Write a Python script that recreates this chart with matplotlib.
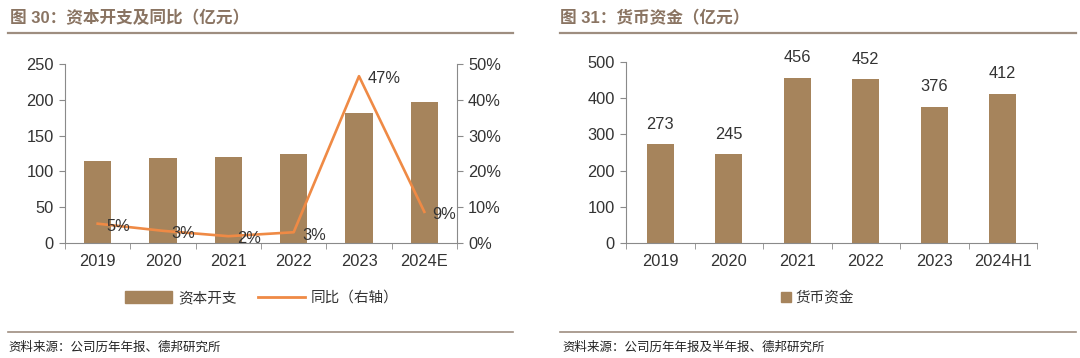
import matplotlib.pyplot as plt
import matplotlib.lines as mlines
import matplotlib.patches as mpatches
import numpy as np

plt.rcParams['font.family'] = ['Liberation Sans', 'Noto Sans CJK SC', 'DejaVu Sans']

# data
capex_years = ['2019', '2020', '2021', '2022', '2023', '2024E']
capex = [114.8, 118.5, 119.9, 124.0, 181.0, 197.5]
capex_yoy = [5.4, 3.4, 1.9, 3.0, 46.6, 8.7]   # %
capex_yoy_labels = ['5%', '3%', '2%', '3%', '47%', '9%']

cash_years = ['2019', '2020', '2021', '2022', '2023', '2024H1']
cash = [273, 245, 456, 452, 376, 412]

bar_color = '#A6845C'
line_color = '#EF8A45'
title_color = '#8A7462'
rule_color = '#9E8E80'
spine_color = '#8A8A8A'
text_color = '#333333'
fs = 11.8

fig = plt.figure(figsize=(10.8, 3.58), dpi=100)


def style_axis(ax, n):
    ax.set_xlim(-0.5, n - 0.5)
    ax.set_xticks(np.arange(n))
    ax.set_xticks(np.arange(n + 1) - 0.5, minor=True)
    ax.tick_params(axis='x', which='major', length=0, pad=8, labelsize=fs, labelcolor=text_color)
    ax.tick_params(axis='x', which='minor', length=4, direction='out', color=spine_color)
    ax.tick_params(axis='y', length=4, direction='out', color=spine_color, labelsize=fs,
                   labelcolor=text_color, pad=4)
    ax.spines['top'].set_visible(False)
    ax.spines['right'].set_visible(False)
    ax.spines['left'].set_color(spine_color)
    ax.spines['bottom'].set_color(spine_color)


# left chart: capex + yoy
ax1 = fig.add_axes([65 / 1080, 1 - 243 / 358, (457 - 65) / 1080, (243 - 64) / 358])
x1 = np.arange(len(capex_years))
ax1.bar(x1, capex, width=0.42, color=bar_color, zorder=2)
style_axis(ax1, len(capex_years))
ax1.set_xticklabels(capex_years)
ax1.set_ylim(0, 250)
ax1.set_yticks(np.arange(0, 251, 50))

ax1r = ax1.twinx()
ax1r.plot(x1, capex_yoy, color=line_color, lw=1.9, zorder=3)
ax1r.set_ylim(0, 50)
ax1r.set_yticks(np.arange(0, 51, 10))
ax1r.set_yticklabels([f'{v}%' for v in range(0, 51, 10)])
ax1r.tick_params(axis='y', length=4, direction='out', color=spine_color, labelsize=fs,
                 labelcolor=text_color, pad=4)
for s in ['top', 'left', 'bottom']:
    ax1r.spines[s].set_visible(False)
ax1r.spines['right'].set_color(spine_color)
for xi, v, lab in zip(x1, capex_yoy, capex_yoy_labels):
    ax1r.annotate(lab, (xi, v), xytext=(6, -2), textcoords='offset points',
                  ha='left', va='center', fontsize=fs, color=text_color)

# right chart: cash
ax2 = fig.add_axes([626 / 1080, 1 - 243 / 358, (1037 - 626) / 1080, (243 - 62) / 358])
x2 = np.arange(len(cash_years))
ax2.bar(x2, cash, width=0.4, color=bar_color, zorder=2)
style_axis(ax2, len(cash_years))
ax2.set_xticklabels(cash_years)
ax2.set_ylim(0, 500)
ax2.set_yticks(np.arange(0, 501, 100))
for xi, v in zip(x2, cash):
    ax2.annotate(f'{v}', (xi, v), xytext=(0, 9), textcoords='offset points',
                 ha='center', va='bottom', fontsize=fs, color=text_color)

# legends
h_bar = mpatches.Patch(color=bar_color, label='资本开支')
h_line = mlines.Line2D([], [], color=line_color, lw=2, label='同比（右轴）')
fig.legend(handles=[h_bar, h_line], loc='center', bbox_to_anchor=(262 / 1080, 1 - 298 / 358),
           ncol=2, frameon=False, fontsize=10.5, handlelength=3.2, handleheight=0.8,
           columnspacing=1.5, handletextpad=0.4, labelcolor=text_color)
h_cash = mlines.Line2D([], [], color=bar_color, marker='s', ls='', markersize=7, label='货币资金')
fig.legend(handles=[h_cash], loc='center', bbox_to_anchor=(817 / 1080, 1 - 298 / 358),
           frameon=False, fontsize=10.5, handlelength=0.8, handletextpad=0.2, labelcolor=text_color)

# titles, rules, sources
fig.text(10 / 1080, 1 - 18 / 358, '图 30：资本开支及同比（亿元）', fontsize=12, fontweight='bold',
         color=title_color, va='center', ha='left')
fig.text(560 / 1080, 1 - 18 / 358, '图 31：货币资金（亿元）', fontsize=12, fontweight='bold',
         color=title_color, va='center', ha='left')
for x0, x1_ in [(8, 513), (560, 1076)]:
    fig.add_artist(mlines.Line2D([x0 / 1080, x1_ / 1080], [1 - 33 / 358, 1 - 33 / 358],
                                 color=rule_color, lw=1.6))
    fig.add_artist(mlines.Line2D([x0 / 1080, x1_ / 1080], [1 - 332 / 358, 1 - 332 / 358],
                                 color=rule_color, lw=1.2))
fig.text(8 / 1080, 1 - 348 / 358, '资料来源：公司历年年报、德邦研究所', fontsize=9,
         color='#222222', va='center', ha='left')
fig.text(562 / 1080, 1 - 348 / 358, '资料来源：公司历年年报及半年报、德邦研究所', fontsize=9,
         color='#222222', va='center', ha='left')

fig.savefig('out.png', dpi=100)
